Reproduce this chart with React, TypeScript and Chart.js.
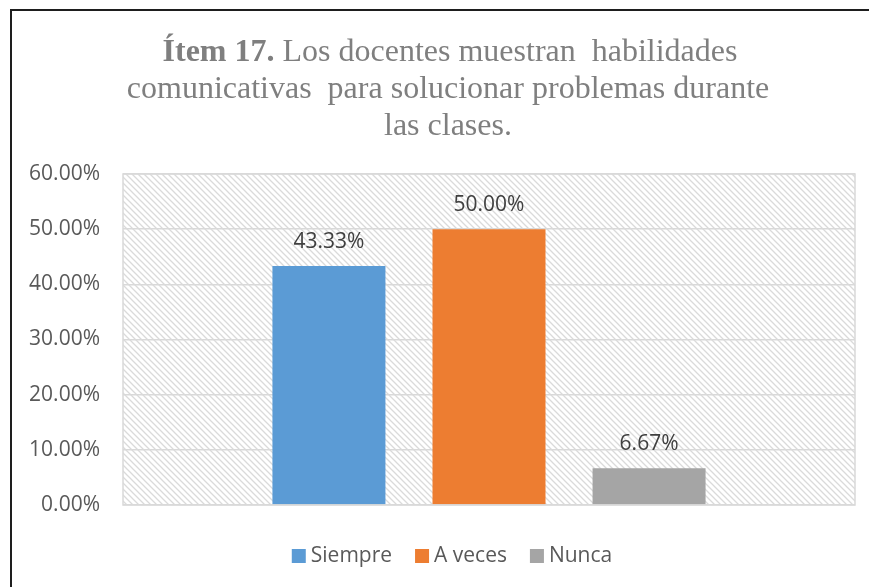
import React, { useEffect, useRef } from "react";
import { Chart, registerables } from "chart.js";

Chart.register(...registerables);

const categories = [""];
const seriesNames = ["Siempre", "A veces", "Nunca"];
const seriesValues = [[0.4333], [0.5], [0.0667]];
const seriesColors = ["#5B9BD5", "#ED7D31", "#A5A5A5"];
const titleBold = "Ítem 17.";
const titleLines = [" Los docentes muestran  habilidades", "comunicativas  para solucionar problemas durante", "las clases."];
const yMin = 0;
const yMax = 0.6;
const yStep = 0.1;

const SANS = "'Open Sans', sans-serif";
const SERIF = "'Liberation Serif', 'Times New Roman', serif";
const FS = 21;

const fmt = (v: number) => (v * 100).toFixed(2) + "%";

const decorPlugin = {
  id: "decor",
  beforeDraw(chart: any) {
    const ctx = chart.ctx as CanvasRenderingContext2D;
    const { left, top, right, bottom } = chart.chartArea;
    ctx.save();
    ctx.fillStyle = "#ffffff";
    ctx.fillRect(0, 0, chart.width, chart.height);
    // hatch pattern
    const tile = document.createElement("canvas");
    tile.width = 6;
    tile.height = 6;
    const t = tile.getContext("2d")!;
    t.strokeStyle = "#dadada";
    t.lineWidth = 1.3;
    t.beginPath();
    t.moveTo(-1, -1);
    t.lineTo(7, 7);
    t.moveTo(-7, -1);
    t.lineTo(1, 7);
    t.moveTo(5, -1);
    t.lineTo(13, 7);
    t.stroke();
    const pat = ctx.createPattern(tile, "repeat")!;
    ctx.fillStyle = pat;
    ctx.fillRect(left, top, right - left, bottom - top);
    // outer frame lines
    ctx.fillStyle = "#1e1e1e";
    ctx.fillRect(10, 9, chart.width - 10, 2);
    ctx.fillRect(10, 9, 2, chart.height - 9);
    // title
    ctx.fillStyle = "#7f7f7f";
    ctx.textBaseline = "middle";
    ctx.textAlign = "left";
    const fs = 32;
    const cx = 450;
    const lineY = [53, 90, 127];
    ctx.font = `bold ${fs}px ${SERIF}`;
    const wb = ctx.measureText(titleBold).width;
    ctx.font = `${fs}px ${SERIF}`;
    const w1 = ctx.measureText(titleLines[0]).width;
    let x = cx - (wb + w1) / 2;
    ctx.font = `bold ${fs}px ${SERIF}`;
    ctx.fillText(titleBold, x, lineY[0]);
    ctx.font = `${fs}px ${SERIF}`;
    ctx.fillText(titleLines[0], x + wb, lineY[0]);
    ctx.textAlign = "center";
    for (let i = 1; i < titleLines.length; i++) {
      ctx.fillText(titleLines[i], cx - 2, lineY[i]);
    }
    ctx.restore();
  },
  afterDraw(chart: any) {
    const ctx = chart.ctx as CanvasRenderingContext2D;
    const { left, top, right, bottom } = chart.chartArea;
    ctx.save();
    ctx.strokeStyle = "#d9d9d9";
    ctx.lineWidth = 1.5;
    ctx.strokeRect(left, top, right - left, bottom - top);
    // data labels
    ctx.font = `${FS}px ${SANS}`;
    ctx.fillStyle = "#404040";
    ctx.textAlign = "center";
    ctx.textBaseline = "middle";
    chart.data.datasets.forEach((ds: any, di: number) => {
      const meta = chart.getDatasetMeta(di);
      meta.data.forEach((bar: any, i: number) => {
        ctx.fillText(fmt(ds.data[i]), bar.x, bar.y - 24);
      });
    });
    // legend
    const box = 14;
    const gapText = 5;
    const gapItem = 23;
    ctx.font = `${FS}px ${SANS}`;
    const widths = chart.data.datasets.map((ds: any) => ctx.measureText(ds.label).width);
    const total = widths.reduce((a: number, w: number) => a + box + gapText + w, 0) + gapItem * (widths.length - 1);
    let lx = 452 - total / 2;
    const ly = 556;
    ctx.textAlign = "left";
    chart.data.datasets.forEach((ds: any, di: number) => {
      ctx.fillStyle = ds.backgroundColor;
      ctx.fillRect(lx, ly - box / 2, box, box);
      ctx.fillStyle = "#595959";
      ctx.fillText(ds.label, lx + box + gapText, ly);
      lx += box + gapText + widths[di] + gapItem;
    });
    ctx.restore();
  },
};

export default function App() {
  const ref = useRef<HTMLCanvasElement>(null);
  useEffect(() => {
    if (!ref.current) return;
    const chart = new Chart(ref.current, {
      type: "bar",
      data: {
        labels: categories,
        datasets: seriesNames.map((name, i) => ({
          label: name,
          data: seriesValues[i],
          backgroundColor: seriesColors[i],
          borderWidth: 0,
          categoryPercentage: 0.656,
          barPercentage: 0.706,
        })),
      },
      options: {
        responsive: false,
        animation: false,
        layout: { padding: { top: 174, right: 14, bottom: 82, left: 0 } },
        plugins: {
          legend: { display: false },
          title: { display: false },
          tooltip: { enabled: false },
        },
        scales: {
          x: { display: false },
          y: {
            min: yMin,
            max: yMax,
            afterFit: (scale: any) => {
              scale.width = 123;
            },
            ticks: {
              stepSize: yStep,
              padding: 23,
              color: "#595959",
              font: { family: SANS, size: FS },
              callback: (v: any) => fmt(Number(v)),
            },
            grid: { color: "#d9d9d9", lineWidth: 1.5, drawTicks: false },
            border: { display: false },
          },
        },
      },
      plugins: [decorPlugin],
    });
    return () => chart.destroy();
  }, []);
  return (
    <div style={{ position: "fixed", left: 0, top: 0, width: 869, height: 587 }}>
      <canvas ref={ref} width={869} height={587} style={{ display: "block" }} />
    </div>
  );
}
